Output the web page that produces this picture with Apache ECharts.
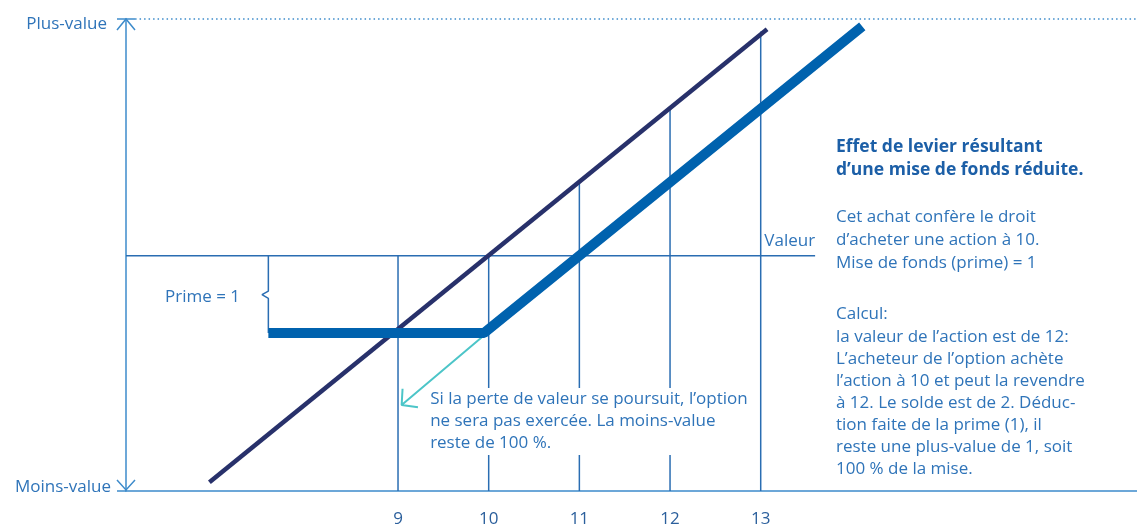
<!DOCTYPE html>
<html style="height: 100%">
   <head>
       <meta charset="utf-8">
   </head>
   <body style="height: 100%; margin: 0; background: #fff">
       <div id="container" style="width: 1137px; height: 524px"></div>
       <script type="text/javascript" src="https://cdn.jsdelivr.net/npm/echarts@6/dist/echarts.min.js"></script>
       <script type="text/javascript">
var dom = document.getElementById("container");
var myChart = echarts.init(dom);

// axes
var xMin = 6, xMax = 17.15;
var yMin = -3.2, yMax = 3.22;
var tickLabels = ['9', '10', '11', '12', '13'];

// valeur de l'action (droite foncée)
var actionLine = [[6.92, -3.08], [13.07, 3.08]];
// option d'achat (ligne épaisse)
var optionLine = [[7.57, -1.05], [9.95, -1.05], [14.12, 3.12]];
// lignes verticales : x et sommet
var gridX = [9, 10, 11, 12, 13];
var gridTop = [0, 0, 1, 2, 3.05];
// ligne "Valeur"
var valeurLine = [[6, 0], [13.6, 0]];
// accolade prime
var primeLine = [[7.57, 0], [7.57, -0.48], [7.5, -0.53], [7.57, -0.58], [7.57, -1.05]];
// flèche turquoise
var arrowLine = [[9.96, -1.07], [9.04, -2.03], [9.22, -2.06], [9.04, -2.03], [9.05, -1.81]];

var axisColor = '#3d8bcb';
var gridColor = '#2a6db2';
var textColor = '#2f74b9';
var font = 'Open Sans';

function seg(data, color, width, type) {
    return {
        type: 'line', data: data, symbol: 'none', silent: true, clip: false,
        lineStyle: { color: color, width: width, type: type || 'solid', cap: 'butt' },
        z: 2
    };
}

var series = [];
series.push(seg(valeurLine, gridColor, 1.5));
for (var i = 0; i < gridX.length; i++) {
    series.push(seg([[gridX[i], gridTop[i]], [gridX[i], yMin]], gridColor, 1.5));
}
series.push(seg(primeLine, gridColor, 1.5));
series.push(seg([[6.1, yMax], [xMax, yMax]], axisColor, 1.5, [1.5, 3]));
series.push(seg(arrowLine, '#4cc5c8', 2));
series.push(seg(actionLine, '#28316b', 4.5));
series.push(seg(optionLine, '#0062ae', 10));

var option = {
    animation: false,
    grid: { left: 126, right: 0, top: 19, bottom: 33, outerBoundsMode: 'none', containLabel: false },
    xAxis: {
        type: 'value', min: xMin, max: xMax, interval: 1,
        axisLine: { show: true, onZero: false, lineStyle: { color: axisColor, width: 1.5 } },
        axisTick: { show: false },
        splitLine: { show: false },
        axisLabel: {
            show: true, margin: 20, showMaxLabel: false,
            color: '#2b5f9c', fontFamily: font, fontSize: 17,
            formatter: function (v) {
                return tickLabels.indexOf(String(v)) >= 0 ? String(v) : '';
            }
        }
    },
    yAxis: {
        type: 'value', min: yMin, max: yMax,
        axisLine: { show: true, onZero: false, lineStyle: { color: axisColor, width: 1.5 } },
        axisTick: { show: false },
        splitLine: { show: false },
        axisLabel: { show: false }
    },
    series: series,
    graphic: []
};

myChart.setOption(option);

// textes et flèches d'axe placés à partir des coordonnées du graphique
function px(p) { return myChart.convertToPixel({ gridIndex: 0 }, p); }
function txt(x, y, text, opts) {
    opts = opts || {};
    return {
        type: 'text', x: x, y: y, z: 100, silent: true,
        style: {
            text: text, fill: opts.color || textColor,
            font: (opts.weight || 'normal') + ' ' + (opts.size || 17) + 'px "' + font + '"',
            align: opts.align || 'left', verticalAlign: opts.va || 'middle',
            lineHeight: opts.lh || 22,
            backgroundColor: opts.bg, padding: opts.pad
        }
    };
}
function poly(points) {
    return {
        type: 'polyline', z: 50, silent: true,
        shape: { points: points },
        style: { stroke: axisColor, lineWidth: 1.5, fill: null }
    };
}
var pTop = px([xMin, yMax]);
var pBot = px([xMin, yMin]);
var pVal = px(valeurLine[1]);
var pPrime = px([7.5, -0.53]);
var pArrow = px([9.31, -2.03]);
var g = [];
// flèches de l'axe vertical
g.push(poly([[pTop[0] - 9, pTop[1] + 11], [pTop[0], pTop[1]], [pTop[0] + 9, pTop[1] + 11]]));
g.push(poly([[pTop[0] - 9, pTop[1]], [pTop[0] + 9, pTop[1]]]));
g.push(poly([[pBot[0] - 9, pBot[1] - 11], [pBot[0], pBot[1] - 1], [pBot[0] + 9, pBot[1] - 11]]));
g.push(poly([[pBot[0] - 9, pBot[1]], [pBot[0], pBot[1]]]));

g.push(txt(pTop[0] - 19, pTop[1] + 5, 'Plus-value', { align: 'right' }));
g.push(txt(pBot[0] - 15, pBot[1] - 4, 'Moins-value', { align: 'right' }));
g.push(txt(pVal[0], pVal[1] - 15, 'Valeur', { align: 'right' }));
g.push(txt(pPrime[0] - 22, pPrime[1] + 2, 'Prime = 1', { align: 'right' }));
g.push(txt(pArrow[0], pArrow[1] - 17, 'Si la perte de valeur se poursuit, l’option\nne sera pas exercée. La moins-value\nreste de 100 %.',
    { va: 'top', bg: '#fff', pad: [0, 8, 1, 4], lh: 22 }));
g.push(txt(836, 159, 'Effet de levier résultant\nd’une mise de fonds réduite.', { weight: 'bold', color: '#1c5fa7', lh: 23, size: 17.5 }));
g.push(txt(836, 240, 'Cet achat confère le droit\nd’acheter une action à 10.\nMise de fonds (prime) = 1', { lh: 23 }));
g.push(txt(836, 392, 'Calcul:\nla valeur de l’action est de 12:\nL’acheteur de l’option achète\nl’action à 10 et peut la revendre\nà 12. Le solde est de 2. Déduc-\ntion faite de la prime (1), il\nreste une plus-value de 1, soit\n100 % de la mise.', { lh: 22.1 }));
myChart.setOption({ graphic: g });
       </script>
   </body>
</html>
